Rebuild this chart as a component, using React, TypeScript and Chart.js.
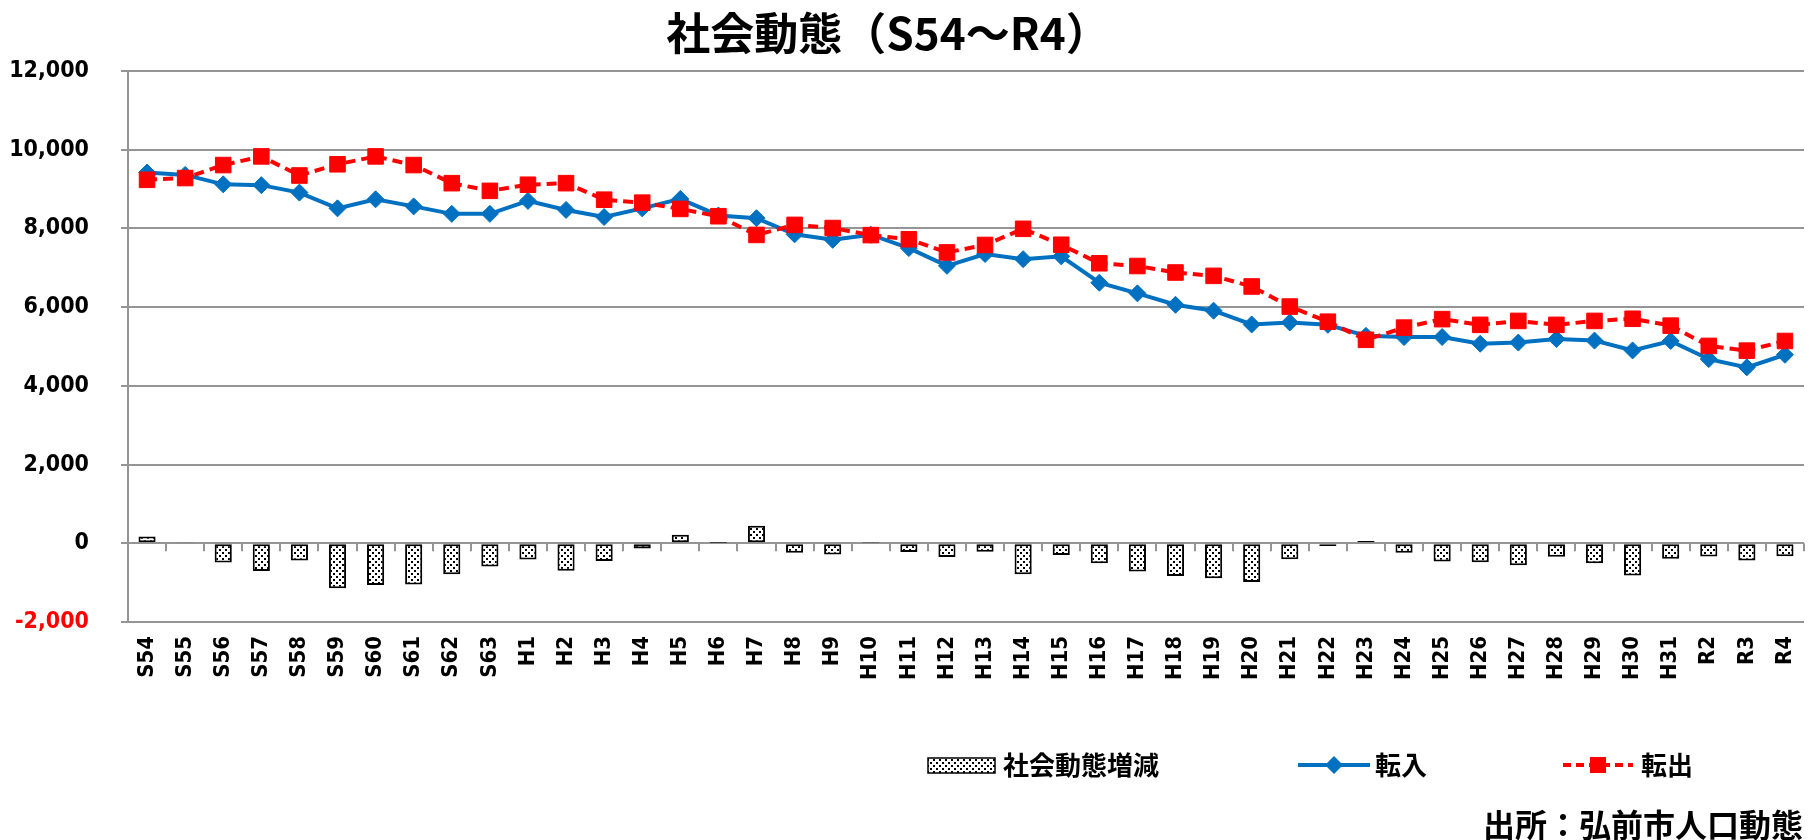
import React, { useEffect, useRef } from 'react';
import { Chart, registerables } from 'chart.js';

Chart.register(...registerables);

// ---- data ----
const categories = [
  'S54', 'S55', 'S56', 'S57', 'S58', 'S59', 'S60', 'S61', 'S62', 'S63',
  'H1', 'H2', 'H3', 'H4', 'H5', 'H6', 'H7', 'H8', 'H9', 'H10',
  'H11', 'H12', 'H13', 'H14', 'H15', 'H16', 'H17', 'H18', 'H19', 'H20',
  'H21', 'H22', 'H23', 'H24', 'H25', 'H26', 'H27', 'H28', 'H29', 'H30',
  'H31', 'R2', 'R3', 'R4',
];

// 転入
const inflow = [
  9420, 9360, 9120, 9100, 8910, 8510, 8740, 8560, 8370, 8370,
  8700, 8470, 8290, 8510, 8750, 8330, 8260, 7850, 7710, 7840,
  7500, 7050, 7350, 7220, 7290, 6620, 6350, 6060, 5910, 5560,
  5610, 5550, 5270, 5240, 5240, 5070, 5100, 5190, 5150, 4900,
  5140, 4680, 4470, 4790,
];

// 転出
const outflow = [
  9235, 9280, 9610, 9830, 9345, 9630, 9830, 9610, 9150, 8955,
  9110, 9150, 8730, 8655, 8495, 8310, 7835, 8090, 8010, 7830,
  7725, 7390, 7580, 7990, 7585, 7115, 7045, 6880, 6795, 6525,
  6015, 5630, 5170, 5480, 5695, 5550, 5650, 5550, 5650, 5705,
  5530, 5015, 4895, 5140,
];

// 社会動態増減
const netChange = [
  170, 30, -490, -705, -440, -1140, -1060, -1045, -785, -590,
  -410, -700, -450, -130, 215, 10, 445, -240, -285, 15,
  -220, -350, -215, -785, -297, -505, -715, -830, -890, -985,
  -405, -70, 60, -240, -465, -483, -555, -345, -505, -820,
  -390, -335, -435, -330,
];

const yMin = -2000;
const yMax = 12000;
const yStep = 2000;

const titleText = '社会動態（S54～R4）';
const seriesNames = ['社会動態増減', '転入', '転出'];
const sourceText = '出所：弘前市人口動態';

const BLUE = '#0070C0';
const RED = '#FF0000';
const GRID = '#959595';
const CJK = '"Noto Sans CJK JP", "Noto Sans", sans-serif';
const NUM = '"DejaVu Sans Condensed", "Liberation Sans Narrow", "DejaVu Sans", sans-serif';

function makePattern(): CanvasPattern | string {
  const c = document.createElement('canvas');
  c.width = 6;
  c.height = 6;
  const g = c.getContext('2d');
  if (!g) return '#ddd';
  g.fillStyle = '#ffffff';
  g.fillRect(0, 0, 6, 6);
  g.fillStyle = '#000000';
  g.fillRect(0, 0, 2, 2);
  g.fillRect(3, 3, 2, 2);
  const p = g.createPattern(c, 'repeat');
  return p || '#ddd';
}

export default function App() {
  const canvasRef = useRef<HTMLCanvasElement | null>(null);

  useEffect(() => {
    const canvas = canvasRef.current;
    if (!canvas) return;
    const pattern = makePattern();

    const decor = {
      id: 'decor',
      beforeDatasetsDraw(chart: any) {
        const { ctx, chartArea, scales } = chart;
        const x = scales.x;
        const y = scales.y;
        const y0 = y.getPixelForValue(0);
        const n = categories.length;
        ctx.save();
        ctx.strokeStyle = GRID;
        ctx.lineWidth = 2;
        ctx.beginPath();
        for (let i = 1; i <= n; i++) {
          const bx = i < n
            ? (x.getPixelForTick(i - 1) + x.getPixelForTick(i)) / 2
            : chartArea.right;
          ctx.moveTo(Math.round(bx), y0);
          ctx.lineTo(Math.round(bx), y0 + 8);
        }
        ctx.stroke();
        ctx.restore();
      },
      afterDraw(chart: any) {
        const { ctx } = chart;
        ctx.save();
        // title
        ctx.fillStyle = '#000';
        ctx.font = `bold 44px ${CJK}`;
        ctx.textAlign = 'center';
        ctx.textBaseline = 'middle';
        ctx.fillText(titleText, 888, 33);

        // legend
        const ly = 765;
        ctx.font = `bold 26px ${CJK}`;
        ctx.textAlign = 'left';
        // bar swatch
        ctx.fillStyle = pattern as any;
        ctx.fillRect(928, 758, 67, 15);
        ctx.strokeStyle = '#000';
        ctx.lineWidth = 1.5;
        ctx.strokeRect(928, 758, 67, 15);
        ctx.fillStyle = '#000';
        ctx.fillText(seriesNames[0], 1003, ly);

        // blue line
        ctx.strokeStyle = BLUE;
        ctx.lineWidth = 4;
        ctx.beginPath();
        ctx.moveTo(1298, ly);
        ctx.lineTo(1370, ly);
        ctx.stroke();
        ctx.fillStyle = BLUE;
        ctx.beginPath();
        ctx.moveTo(1334 - 9, ly);
        ctx.lineTo(1334, ly - 9);
        ctx.lineTo(1334 + 9, ly);
        ctx.lineTo(1334, ly + 9);
        ctx.closePath();
        ctx.fill();
        ctx.fillStyle = '#000';
        ctx.fillText(seriesNames[1], 1375, ly);

        // red dashed line
        ctx.strokeStyle = RED;
        ctx.lineWidth = 4;
        ctx.setLineDash([8, 5]);
        ctx.beginPath();
        ctx.moveTo(1563, ly);
        ctx.lineTo(1633, ly);
        ctx.stroke();
        ctx.setLineDash([]);
        ctx.fillStyle = RED;
        ctx.fillRect(1598 - 8, ly - 8, 16, 16);
        ctx.fillStyle = '#000';
        ctx.fillText(seriesNames[2], 1641, ly);

        // source
        ctx.font = `bold 32px ${CJK}`;
        ctx.textAlign = 'right';
        ctx.fillText(sourceText, 1803, 825);
        ctx.restore();
      },
    };

    const chart = new Chart(canvas, {
      type: 'bar',
      data: {
        labels: categories,
        datasets: [
          {
            type: 'bar',
            label: seriesNames[0],
            data: netChange,
            backgroundColor: pattern as any,
            borderColor: '#000',
            borderWidth: 2,
            borderSkipped: false,
            barPercentage: 0.45,
            categoryPercentage: 1,
            order: 3,
          },
          {
            type: 'line',
            label: seriesNames[1],
            data: inflow,
            borderColor: BLUE,
            backgroundColor: BLUE,
            borderWidth: 4,
            pointStyle: 'rectRot',
            pointRadius: 8.5,
            pointBackgroundColor: BLUE,
            pointBorderColor: BLUE,
            pointBorderWidth: 1,
            tension: 0,
            order: 2,
          },
          {
            type: 'line',
            label: seriesNames[2],
            data: outflow,
            borderColor: RED,
            backgroundColor: RED,
            borderWidth: 4,
            borderDash: [10, 6],
            pointStyle: 'rect',
            pointRadius: 11,
            pointBackgroundColor: RED,
            pointBorderColor: RED,
            pointBorderWidth: 1,
            tension: 0,
            order: 1,
          },
        ],
      },
      options: {
        animation: false,
        responsive: true,
        maintainAspectRatio: false,
        layout: { padding: { top: 71, right: 1, bottom: 0, left: 0 } },
        plugins: {
          legend: { display: false },
          title: { display: false },
          tooltip: { enabled: false },
        },
        scales: {
          x: {
            grid: { display: false, drawTicks: false },
            border: { display: false },
            ticks: {
              autoSkip: false,
              minRotation: 90,
              maxRotation: 90,
              padding: 14,
              color: '#000',
              font: { family: NUM, weight: 'bold', size: 22 },
            },
            afterFit(scale: any) {
              scale.height = 218;
              scale.paddingLeft = 0;
              scale.paddingRight = 0;
            },
          },
          y: {
            min: yMin,
            max: yMax,
            ticks: {
              stepSize: yStep,
              padding: 32,
              color: (c: any) => (c.tick && c.tick.value < 0 ? RED : '#000'),
              font: { family: NUM, weight: 'bold', size: 23 },
              callback: (v: any) => Number(v).toLocaleString('en-US'),
            },
            grid: { color: GRID, lineWidth: 2, tickLength: 7, drawTicks: true },
            border: { display: true, color: GRID, width: 2 },
            afterFit(scale: any) {
              scale.width = 128;
            },
          },
        },
      },
      plugins: [decor],
    } as any);

    return () => {
      chart.destroy();
    };
  }, []);

  return (
    <div style={{ position: 'fixed', left: 0, top: 0, width: 1816, height: 840, background: '#fff' }}>
      <canvas ref={canvasRef} />
    </div>
  );
}
